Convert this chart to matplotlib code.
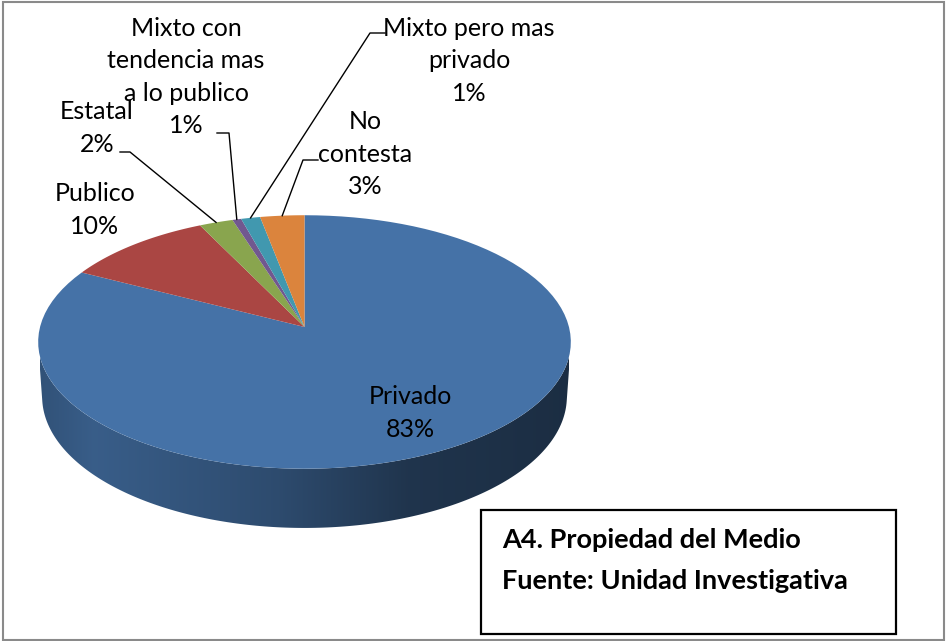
import numpy as np
import matplotlib.pyplot as plt
from matplotlib.patches import Polygon, Rectangle
from matplotlib.colors import to_rgb, LinearSegmentedColormap

# data (percent of answers)
categories = ['Privado', 'Publico', 'Estatal', 'Mixto con tendencia mas a lo publico',
              'Mixto pero mas privado', 'No contesta']
values = [82.6, 10.2, 2.3, 0.6, 1.3, 3.0]
label_names = ['Privado', 'Publico', 'Estatal', 'Mixto con\ntendencia mas\na lo publico',
               'Mixto pero mas\nprivado', 'No\ncontesta']
colors = ['#4572a7', '#aa4643', '#89a54e', '#71588f', '#4198af', '#db843d']

# label centres and leader elbows (pixels)
label_pos = [(410, 413), (95, 210), (97, 128), (186, 77), (469, 61), (365, 154)]
leaders = [None, None,
           [(120, 152), (130, 152)],
           [(217, 133), (229, 133)],
           [(385, 33), (370, 33)],
           [(318, 160), (303, 160)]]

# 3d pie geometry (perspective view)
CX, CY = 304.5, 327
FOC = 1973.0
DIST = 7.46
TILT = np.radians(28.2)
DEPTH = 0.237
S, C = np.sin(TILT), np.cos(TILT)


def project(theta, h=0.0):
    X, Y = np.cos(theta), np.sin(theta)
    py = Y * S + h * C
    pz = DIST + Y * C - h * S
    return np.column_stack([CX + FOC * X / pz, CY - FOC * py / pz])


plt.rcParams['font.family'] = ['Lato', 'DejaVu Sans']
fig = plt.figure(figsize=(9.46, 6.41), dpi=100)
ax = fig.add_axes([0, 0, 1, 1])
ax.set_xlim(0, 946)
ax.set_ylim(641, 0)
ax.axis('off')

frac = np.array(values) / sum(values)
cum = np.concatenate([[0], np.cumsum(frac)])
starts = np.pi / 2 - 2 * np.pi * cum[:-1]
ends = np.pi / 2 - 2 * np.pi * cum[1:]

# visible part of the rim: sin(theta) < -1/(C*DIST)
lim = np.arcsin(1 / (C * DIST))
vis_lo, vis_hi = -np.pi + lim, -lim
left_x = project(np.array([np.pi]))[0, 0]
right_x = project(np.array([0.0]))[0, 0]
shade = [(0.0, 0.72), (0.1, 0.82), (0.45, 0.66), (0.7, 0.46), (1.0, 0.40)]

for i in range(len(values)):
    for k in (0, -1):
        a = max(ends[i], vis_lo + 2 * np.pi * k)
        b = min(starts[i], vis_hi + 2 * np.pi * k)
        if a >= b:
            continue
        th = np.linspace(a, b, 200)
        top = project(th, 0)
        bot = project(th, -DEPTH)
        poly = Polygon(np.vstack([top, bot[::-1]]), closed=True, facecolor='none',
                       edgecolor='none')
        ax.add_patch(poly)
        base = np.array(to_rgb(colors[i]))
        cmap = LinearSegmentedColormap.from_list(
            'side%d' % i, [(p, tuple(base * f)) for p, f in shade])
        grad = np.linspace(0, 1, 256).reshape(1, -1)
        img = ax.imshow(grad, cmap=cmap, aspect='auto',
                        extent=(left_x, right_x, bot[:, 1].max() + 2, top[:, 1].min() - 2),
                        zorder=1)
        img.set_clip_path(poly)

for i in range(len(values)):
    th = np.linspace(starts[i], ends[i], 100)
    pts = np.vstack([[CX, CY], project(th, 0)])
    ax.add_patch(Polygon(pts, closed=True, facecolor=colors[i], edgecolor='none', zorder=2))

for i in range(len(values)):
    txt = '%s\n%d%%' % (label_names[i], round(values[i]))
    ax.text(label_pos[i][0], label_pos[i][1], txt, ha='center', va='center',
            multialignment='center', fontsize=18, linespacing=1.5, zorder=4)
    if leaders[i] is not None:
        mid = (starts[i] + ends[i]) / 2
        rim = project(np.array([mid]), 0)[0]
        pts = np.array(leaders[i] + [tuple(rim)])
        ax.plot(pts[:, 0], pts[:, 1], color='black', lw=1.0, zorder=3)

ax.add_patch(Rectangle((481, 510), 415, 124, facecolor='white', edgecolor='black', lw=1.6,
                       zorder=5))
ax.text(502, 540, 'A4. Propiedad del Medio', ha='left', va='center', fontsize=19.5,
        fontweight='bold', zorder=6)
ax.text(502, 581, 'Fuente: Unidad Investigativa', ha='left', va='center', fontsize=19.5,
        fontweight='bold', zorder=6)

fig.patches.append(Rectangle((0.003, 0.002), 0.995, 0.995, transform=fig.transFigure,
                             fill=False, edgecolor='#8a8a8a', lw=1.5))

fig.savefig('out.png', dpi=100)
